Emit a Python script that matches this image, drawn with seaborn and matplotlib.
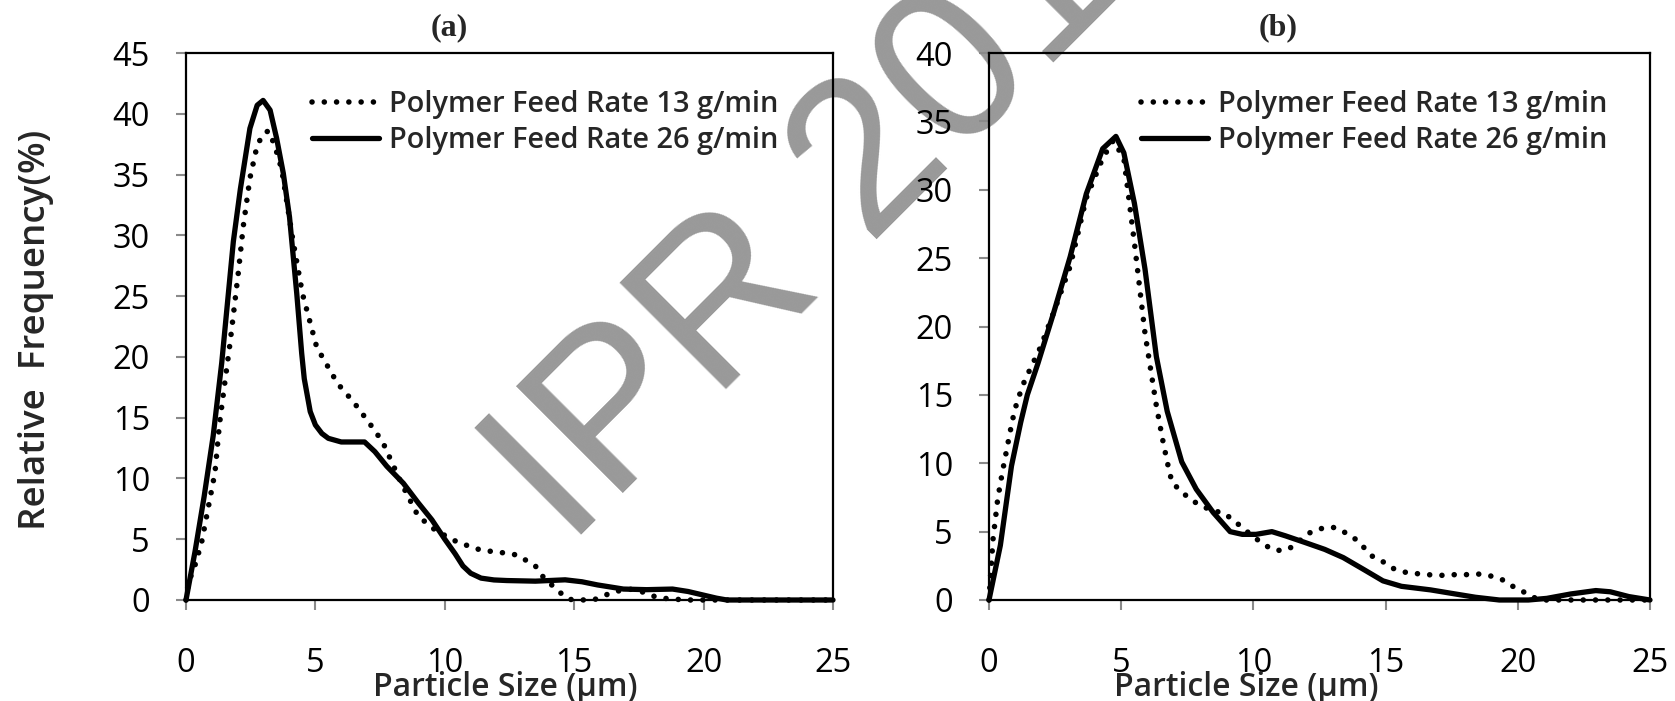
import matplotlib
matplotlib.use("Agg")
import matplotlib.pyplot as plt
import seaborn as sns
import pandas as pd
from matplotlib.font_manager import FontProperties

# ---------------- data ----------------
series_labels = ["Polymer Feed Rate 13 g/min", "Polymer Feed Rate 26 g/min"]
panel_titles = ["(a)", "(b)"]
x_label = "Particle Size (µm)"
y_label = "Relative  Frequency(%)"
x_ticks = [0, 5, 10, 15, 20, 25]
y_ticks_a = [0, 5, 10, 15, 20, 25, 30, 35, 40, 45]
y_ticks_b = [0, 5, 10, 15, 20, 25, 30, 35, 40]
watermark = "IPR 2016"

# panel (a) - 13 g/min (dotted)
a13_x = [0, 0.09, 0.34, 0.6, 0.95, 1.12, 1.29, 1.47, 1.7, 2.02, 2.21, 2.47, 2.75, 3.0, 3.2,
         3.44, 3.7, 4.13, 4.5, 5.05, 5.86, 6.47, 7.07, 7.6, 8.3, 8.97, 9.66, 10.5, 11.4,
         12.2, 12.8, 13.5, 13.8, 14.4, 14.8, 15.3, 15.8, 16.2, 16.6, 17.1, 17.5, 17.9,
         18.4, 19.3, 21.0, 23.0, 25.0]
a13_y = [0, 1.4, 2.8, 4.7, 8.6, 10.5, 14.4, 17.4, 21.1, 26.9, 30.7, 34.7, 37.4, 38.4, 38.6,
         37.3, 35.4, 29.6, 25.2, 20.8, 17.8, 16.3, 14.6, 13.0, 9.7, 6.9, 5.7, 4.75, 4.1,
         3.9, 3.7, 2.8, 1.9, 0.7, 0.05, 0.0, 0.05, 0.4, 0.7, 0.9, 0.8, 0.4,
         0.15, 0.0, 0.0, 0.0, 0.0]
# panel (a) - 26 g/min (solid)
a26_x = [0, 0.35, 0.7, 1.05, 1.38, 1.83, 2.1, 2.47, 2.75, 2.98, 3.25, 3.5, 3.76, 4.0, 4.28,
         4.47, 4.57, 4.8, 5.0, 5.25, 5.5, 6.0, 6.5, 6.9, 7.3, 7.76, 8.4, 8.97, 9.5, 10.0,
         10.4, 10.7, 11.0, 11.4, 11.9, 12.4, 13.5, 14.65, 15.3, 15.9, 16.9, 17.8, 18.8,
         19.4, 20.0, 20.5, 20.9, 22.0, 23.5, 25.0]
a26_y = [0, 4.0, 8.5, 13.5, 19.5, 29.5, 33.8, 38.8, 40.7, 41.1, 40.3, 38.0, 35.1, 31.5, 25.2,
         20.3, 18.2, 15.5, 14.4, 13.7, 13.3, 13.0, 13.0, 13.0, 12.2, 11.0, 9.6, 8.0, 6.6, 5.0,
         3.8, 2.8, 2.2, 1.8, 1.65, 1.6, 1.55, 1.66, 1.5, 1.24, 0.9, 0.85, 0.9,
         0.7, 0.4, 0.15, 0.0, 0.0, 0.0, 0.0]

# panel (b) - 13 g/min (dotted)
b13_x = [0, 0.15, 0.33, 0.51, 0.7, 0.88, 1.06, 1.34, 1.95, 2.46, 3.07, 3.68, 4.3, 4.7, 5.1,
         5.5, 5.9, 6.33, 6.56, 6.74, 6.92, 7.29, 7.66, 8.02, 8.48, 8.85, 9.2, 9.58, 9.95,
         10.3, 10.7, 11.1, 11.5, 11.9, 12.2, 12.7, 13.1, 13.5, 13.9, 14.5, 14.9, 15.3,
         15.8, 16.6, 17.1, 17.5, 18.0, 18.5, 18.9, 19.4, 19.7, 20.1, 20.5, 20.9, 22.0,
         23.5, 25.0]
b13_y = [0, 4.4, 7.4, 9.4, 11.3, 13.1, 14.5, 16.0, 18.5, 21.1, 24.4, 29.4, 32.3, 33.6, 32.3,
         26.1, 19.5, 14.2, 11.8, 10.1, 8.6, 7.9, 7.3, 6.9, 6.5, 6.4, 5.9, 5.3, 4.7,
         4.2, 3.7, 3.6, 3.9, 4.6, 5.0, 5.3, 5.3, 4.9, 4.4, 3.2, 2.8, 2.3,
         2.0, 1.85, 1.8, 1.85, 1.85, 1.9, 1.8, 1.5, 1.1, 0.74, 0.25, 0.0, 0.0,
         0.0, 0.0]
# panel (b) - 26 g/min (solid)
b26_x = [0, 0.43, 0.85, 1.2, 1.45, 1.85, 2.46, 3.07, 3.68, 4.3, 4.8, 5.1, 5.5, 5.9, 6.33,
         6.74, 7.29, 7.84, 8.48, 9.12, 9.58, 10.1, 10.7, 11.2, 11.96, 12.7, 13.4, 14.2,
         14.9, 15.6, 16.7, 17.45, 18.4, 19.3, 20.4, 21.1, 22.0, 22.95, 23.5, 24.2, 25.0]
b26_y = [0, 4.0, 9.8, 13.0, 15.0, 17.3, 21.1, 25.1, 29.7, 33.0, 33.9, 32.7, 29.0, 24.2, 17.8,
         13.8, 10.1, 8.1, 6.4, 5.0, 4.8, 4.8, 5.0, 4.7, 4.2, 3.7, 3.1, 2.2,
         1.4, 1.0, 0.74, 0.5, 0.2, 0.0, 0.0, 0.12, 0.44, 0.69, 0.6, 0.25, 0.0]

# ---------------- style ----------------
sns.set_style("white")
plt.rcParams["font.family"] = ["Open Sans", "DejaVu Sans"]

W, H = 1675, 701
fig = plt.figure(figsize=(W / 100, H / 100), dpi=100)

LW_SOLID = 3.8
LW_DOT = 4.0
DOT = (0.01, 2.2)
TICK_GRAY = "#8a8a8a"

def px_x(p):
    return p / W

def px_y(p):
    return 1 - p / H

axes_boxes = [(186, 833), (989, 1650)]
top_px, bottom_px = 53, 600
panels = [
    (a13_x, a13_y, a26_x, a26_y, y_ticks_a),
    (b13_x, b13_y, b26_x, b26_y, y_ticks_b),
]
legend_right_px = [778, 1607]
title_x_px = [449, 1278]
xlabel_x_px = [505, 1246]

tick_font = FontProperties(family="Open Sans", size=23.5)
legend_font = FontProperties(family="Open Sans", weight="semibold", size=20.8)

for i, ((x13, y13, x26, y26, yt), (l, r)) in enumerate(zip(panels, axes_boxes)):
    ax = fig.add_axes([px_x(l), px_y(bottom_px), (r - l) / W, (bottom_px - top_px) / H])
    ax.set_facecolor("none")
    df = pd.concat([
        pd.DataFrame({"x": x13, "y": y13, "series": series_labels[0]}),
        pd.DataFrame({"x": x26, "y": y26, "series": series_labels[1]}),
    ], ignore_index=True)
    sns.lineplot(data=df, x="x", y="y", hue="series", style="series",
                 palette=["black", "black"], dashes=[DOT, ""],
                 sort=False, estimator=None, ax=ax, linewidth=LW_SOLID,
                 dash_capstyle="round", solid_capstyle="round", clip_on=False)
    for line in ax.get_lines()[:1]:
        line.set_linewidth(LW_DOT)
    ax.set_xlim(0, 25)
    ax.set_ylim(0, yt[-1])
    ax.set_xticks(x_ticks)
    ax.set_yticks(yt)
    ax.set_xticklabels([str(v) for v in x_ticks], fontproperties=tick_font)
    ax.set_yticklabels([str(v) for v in yt], fontproperties=tick_font)
    ax.tick_params(axis="both", which="major", direction="out", length=7.5,
                   width=1.5, color=TICK_GRAY, labelcolor="black")
    ax.tick_params(axis="y", pad=18.5, left=True)
    ax.tick_params(axis="x", pad=26.5, bottom=True)
    ax.set_xlabel("")
    ax.set_ylabel("")
    for s in ax.spines.values():
        s.set_visible(True)
        s.set_color("black")
        s.set_linewidth(1.6)

    # legend
    old = ax.get_legend()
    handles = old.legend_handles
    labels = [t.get_text() for t in old.get_texts()]
    old.remove()
    leg = ax.legend(handles=handles, labels=labels, loc="upper right",
                    bbox_to_anchor=(px_x(legend_right_px[i]), px_y(90)),
                    bbox_transform=fig.transFigure, frameon=False,
                    borderpad=0, borderaxespad=0, handlelength=2.3,
                    handletextpad=0.35, labelspacing=0.24, prop=legend_font)
    for line, dash, lw in zip(leg.get_lines(), [DOT, None], [LW_DOT, LW_SOLID]):
        line.set_color("black")
        line.set_linewidth(lw)
        line.set_dash_capstyle("round")
        line.set_solid_capstyle("round")
        if dash is None:
            line.set_linestyle("-")
        else:
            line.set_dashes(dash)

    fig.text(px_x(title_x_px[i]), px_y(28), panel_titles[i], ha="center", va="center",
             family="Liberation Serif", weight="bold", fontsize=23)
    fig.text(px_x(xlabel_x_px[i]), px_y(687), x_label, ha="center", va="center",
             family="Open Sans", weight="semibold", fontsize=23)

fig.text(px_x(36), px_y(330), y_label, rotation=90, ha="center", va="center",
         family="Open Sans", weight="semibold", fontsize=26.5)

fig.text(px_x(568), px_y(549), watermark, rotation=45, rotation_mode="anchor",
         ha="left", va="baseline", family="Liberation Sans", fontsize=158,
         color="#999999", zorder=-1)

fig.savefig("out.png", dpi=100)
